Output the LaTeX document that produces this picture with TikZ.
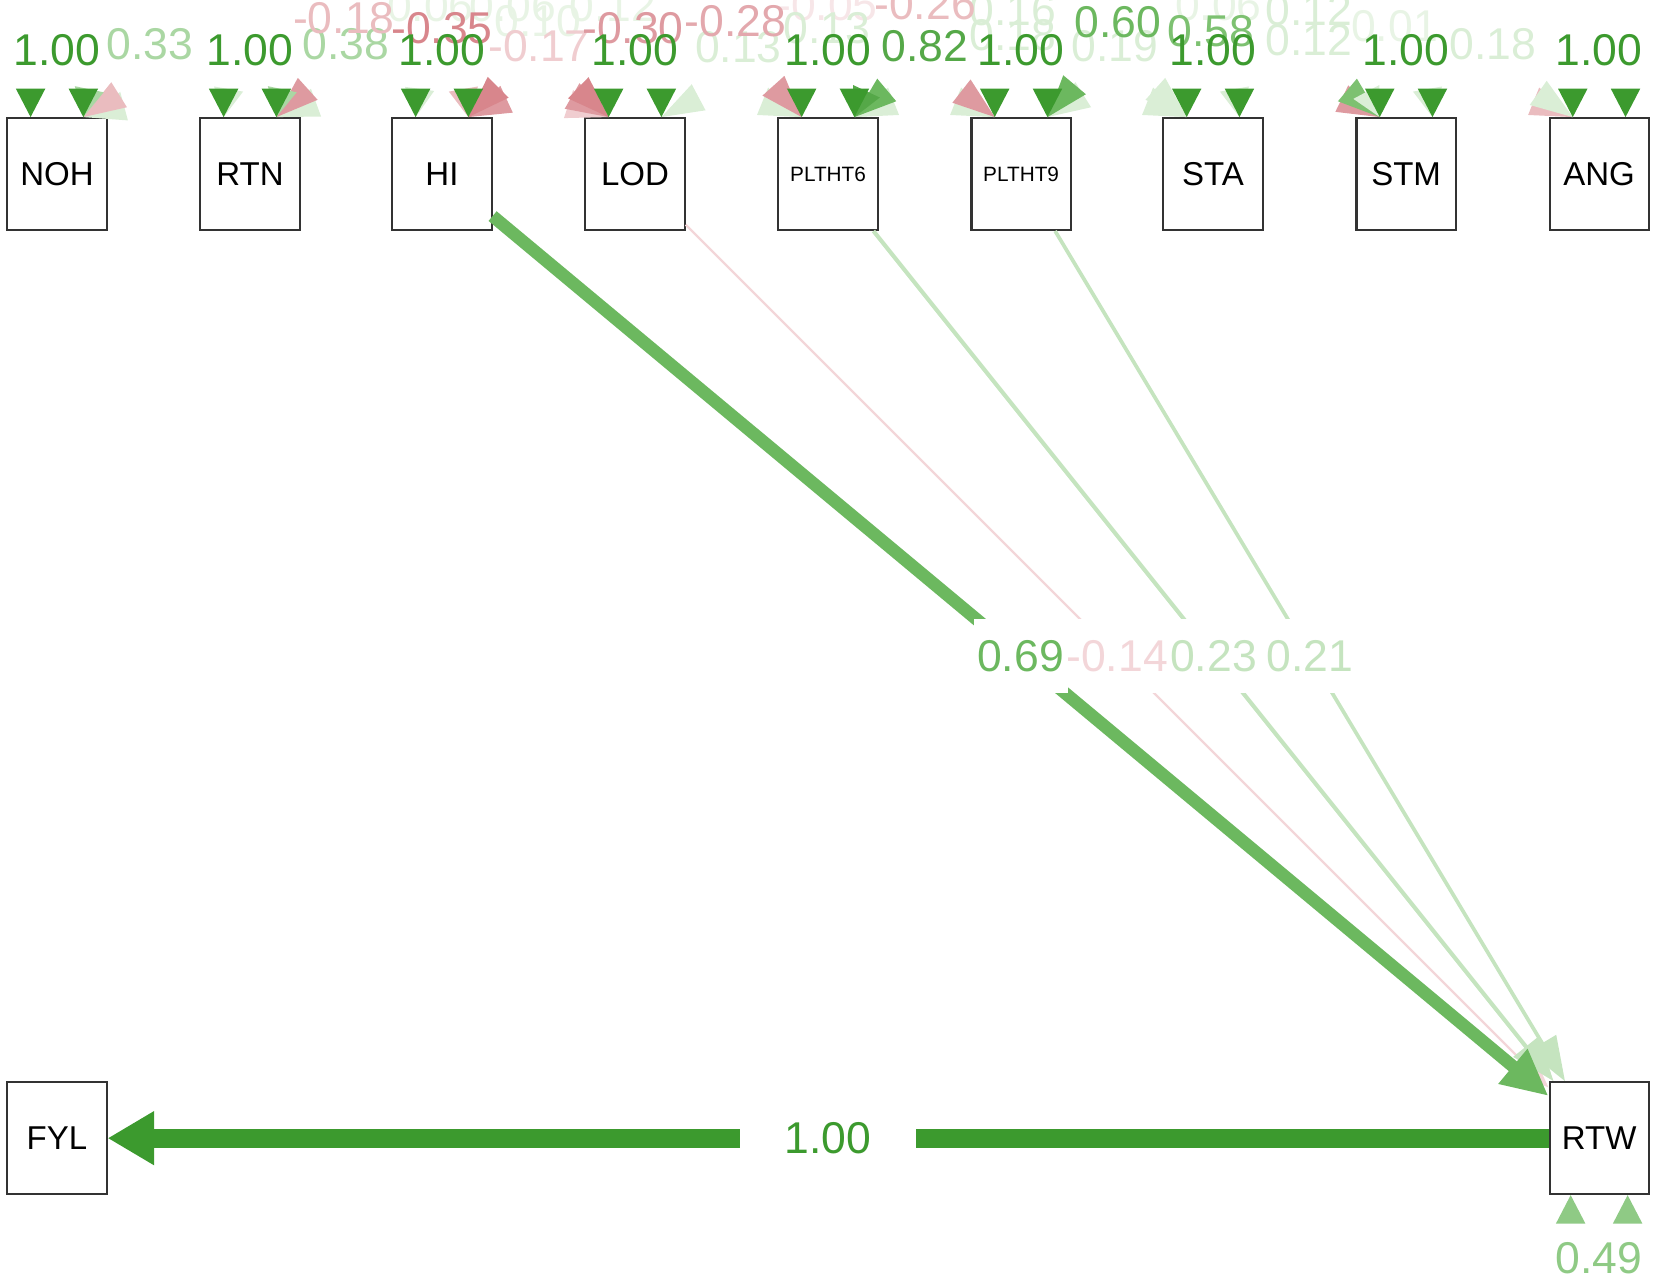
\documentclass[tikz,border=0pt]{standalone}
\usepackage{fontspec}
\setmainfont{Liberation Sans}
\usetikzlibrary{arrows.meta,calc}

% positive weights
\definecolor{posdark}{HTML}{3C9A2E}
\definecolor{posstrong}{HTML}{55A848}
\definecolor{posmid}{HTML}{6CB85F}
\definecolor{posmidl}{HTML}{7DC171}
\definecolor{posres}{HTML}{8FCA85}
\definecolor{poslight}{HTML}{AAD7A3}
\definecolor{posline}{HTML}{C5E4BF}
\definecolor{posfaint}{HTML}{DAEED6}
\definecolor{posghost}{HTML}{E8F4E5}
% negative weights
\definecolor{negdark}{HTML}{D8868C}
\definecolor{negmid}{HTML}{DE9AA0}
\definecolor{negmidl}{HTML}{E3A8AD}
\definecolor{neglight}{HTML}{EABCBF}
\definecolor{negfaint}{HTML}{F0CDD0}
\definecolor{negline}{HTML}{F3D6D9}
\definecolor{negghost}{HTML}{F7E6E8}

\tikzset{
  varbox/.style={draw=black!80, line width=0.55pt, fill=white, minimum width=0.94cm,
    minimum height=1.06cm, inner sep=0pt, font=\fontsize{8.9}{10}\selectfont},
  smallbox/.style={varbox, font=\fontsize{5.6}{6.5}\selectfont},
  numlab/.style={inner sep=0pt, font=\fontsize{12}{14}\selectfont},
  edgelab/.style={numlab, midway, fill=white, inner xsep=1pt, inner ysep=0.2cm},
  thinhead/.style={-{Triangle[length=0.42cm,width=0.3cm]}},
}

% a loose arrowhead: tip at node anchor + dx, back turned to angle
\newcommand{\semhead}[4]{\fill[#4,shift={($(#1)+(#2,0)$)},rotate=#3] (0,0) -- (27,14) -- (27,-14) -- cycle;}
% same, for the covariance curves that leave the picture
\newcommand{\covhead}[4]{\fill[#4,shift={($(#1)+(#2,0)$)},rotate=#3] (0,0) -- (40,14) -- (40,-14) -- cycle;}

\begin{document}
\begin{tikzpicture}[x=0.01cm,y=0.01cm]
\useasboundingbox (0,0) rectangle (1568,1211);
\clip (0,0) rectangle (1568,1211);

% manifest variables
\node[varbox] (NOH) at (54,1046) {NOH};
\node[varbox] (RTN) at (237,1046) {RTN};
\node[varbox] (HI) at (419,1046) {HI};
\node[varbox] (LOD) at (602,1046) {LOD};
\node[smallbox] (PLTHT6) at (785,1046) {PLTHT6};
\node[smallbox] (PLTHT9) at (968,1046) {PLTHT9};
\node[varbox] (STA) at (1150,1046) {STA};
\node[varbox] (STM) at (1333,1046) {STM};
\node[varbox] (ANG) at (1516,1046) {ANG};
\node[varbox] (FYL) at (54,132) {FYL};
\node[varbox] (RTW) at (1516,132) {RTW};

% covariance labels (curves run off the top)
\node[numlab, text=posghost] (c1) at (408,1205) {0.06};
\node[numlab, text=posghost] (c2) at (486,1205) {0.06};
\node[numlab, text=posghost] (c3) at (510,1191) {0.10};
\node[numlab, text=posghost] (c4) at (581,1205) {0.12};
\node[numlab, text=negghost] (c5) at (784,1206) {-0.05};
\node[numlab, text=posghost] (c6) at (1155,1206) {0.06};
\node[numlab, text=posghost] (c7) at (1322,1186) {0.01};
\node[numlab, text=posfaint] (c8) at (700,1166) {0.13};
\node[numlab, text=posfaint] (c9) at (784,1184) {0.13};
\node[numlab, text=posfaint] (c10) at (960,1201) {0.16};
\node[numlab, text=posfaint] (c11) at (960,1178) {0.18};
\node[numlab, text=posfaint] (c12) at (1057,1167) {0.19};
\node[numlab, text=posfaint] (c13) at (1241,1201) {0.12};
\node[numlab, text=posfaint] (c14) at (1241,1173) {0.12};
\node[numlab, text=posfaint] (c15) at (1415,1169) {0.18};
\node[numlab, text=poslight] (c16) at (142,1169) {0.33};
\node[numlab, text=poslight] (c17) at (328,1169) {0.38};
\node[numlab, text=neglight] (c18) at (326,1194) {-0.18};
\node[numlab, text=negfaint] (c19) at (511,1167) {-0.17};
\node[numlab, text=neglight] (c20) at (877,1207) {-0.26};
\node[numlab, text=negdark] (c21) at (419,1184) {-0.35};
\node[numlab, text=negmid] (c22) at (600,1184) {-0.30};
\node[numlab, text=negmidl] (c23) at (697,1191) {-0.28};
\node[numlab, text=posmid] (c24) at (1060,1190) {0.60};
\node[numlab, text=posmidl] (c25) at (1148,1181) {0.58};
\node[numlab, text=posstrong] (c26) at (877,1167) {0.82};

% variance labels
\node[numlab, text=posdark] (vNOH) at (54,1163) {1.00};
\node[numlab, text=posdark] (vRTN) at (237,1163) {1.00};
\node[numlab, text=posdark] (vHI) at (419,1163) {1.00};
\node[numlab, text=posdark] (vLOD) at (602,1163) {1.00};
\node[numlab, text=posdark] (vPLTHT6) at (785,1163) {1.00};
\node[numlab, text=posdark] (vPLTHT9) at (968,1163) {1.00};
\node[numlab, text=posdark] (vSTA) at (1150,1163) {1.00};
\node[numlab, text=posdark] (vSTM) at (1333,1163) {1.00};
\node[numlab, text=posdark] (vANG) at (1516,1163) {1.00};
\node[numlab, text=posres] (vRTW) at (1516,18) {0.49};

% covariance heads
\covhead{NOH.north}{25}{15}{posfaint}
\covhead{NOH.north}{25}{32}{neglight}
\semhead{NOH.north}{25}{78}{poslight}
\semhead{RTN.north}{-25}{80}{posfaint}
\covhead{RTN.north}{25}{20}{posfaint}
\covhead{RTN.north}{25}{42}{negmid}
\semhead{RTN.north}{25}{78}{poslight}
\semhead{HI.north}{-25}{82}{posfaint}
\covhead{HI.north}{25}{25}{negmid}
\covhead{HI.north}{25}{45}{negdark}
\semhead{HI.north}{25}{100}{neglight}
\covhead{LOD.north}{-25}{162}{negfaint}
\covhead{LOD.north}{-25}{150}{negmid}
\covhead{LOD.north}{-25}{136}{negdark}
\covhead{LOD.north}{25}{28}{posfaint}
\covhead{PLTHT6.north}{-25}{158}{posfaint}
\covhead{PLTHT6.north}{-25}{132}{negmid}
\covhead{PLTHT6.north}{25}{22}{posfaint}
\covhead{PLTHT6.north}{25}{40}{posmid}
\semhead{PLTHT6.north}{25}{65}{posstrong}
\covhead{PLTHT9.north}{-25}{158}{posfaint}
\covhead{PLTHT9.north}{-25}{142}{negmid}
\covhead{PLTHT9.north}{25}{32}{posfaint}
\covhead{PLTHT9.north}{25}{50}{posmid}
\covhead{STA.north}{-25}{158}{posfaint}
\covhead{STA.north}{-25}{138}{posfaint}
\semhead{STA.north}{25}{100}{posfaint}
\covhead{STM.north}{-25}{154}{negmid}
\covhead{STM.north}{-25}{140}{posmidl}
\semhead{STM.north}{-25}{118}{posfaint}
\semhead{STM.north}{25}{100}{posfaint}
\covhead{ANG.north}{-25}{158}{neglight}
\covhead{ANG.north}{-25}{145}{posfaint}

% variance heads
\semhead{NOH.north}{-25}{90}{posdark}
\semhead{NOH.north}{25}{90}{posdark}
\semhead{RTN.north}{-25}{90}{posdark}
\semhead{RTN.north}{25}{90}{posdark}
\semhead{HI.north}{-25}{90}{posdark}
\semhead{HI.north}{25}{90}{posdark}
\semhead{LOD.north}{-25}{90}{posdark}
\semhead{LOD.north}{25}{90}{posdark}
\semhead{PLTHT6.north}{-25}{90}{posdark}
\semhead{PLTHT6.north}{25}{90}{posdark}
\semhead{PLTHT9.north}{-25}{90}{posdark}
\semhead{PLTHT9.north}{25}{90}{posdark}
\semhead{STA.north}{-25}{90}{posdark}
\semhead{STA.north}{25}{90}{posdark}
\semhead{STM.north}{-25}{90}{posdark}
\semhead{STM.north}{25}{90}{posdark}
\semhead{ANG.north}{-25}{90}{posdark}
\semhead{ANG.north}{25}{90}{posdark}
\semhead{RTW.south}{-27}{-90}{posres}
\semhead{RTW.south}{27}{-90}{posres}

% regressions
\draw[negline, line width=0.6pt, -{Triangle[length=0.3cm,width=0.22cm]}] (LOD) -- (RTW) node[edgelab]{-0.14};
\draw[posline, line width=1.1pt, thinhead] (PLTHT6) -- (RTW) node[edgelab]{0.23};
\draw[posline, line width=1pt, thinhead] (PLTHT9) -- (RTW) node[edgelab]{0.21};
\draw[posmid, line width=3.4pt, -{Triangle[length=0.44cm,width=0.4cm]}] (HI) -- (RTW) node[edgelab]{0.69};
\draw[posdark, line width=5.1pt, -{Triangle[length=0.44cm,width=0.48cm]}] (RTW) -- (FYL) node[edgelab, inner xsep=0.42cm]{1.00};
\end{tikzpicture}
\end{document}
